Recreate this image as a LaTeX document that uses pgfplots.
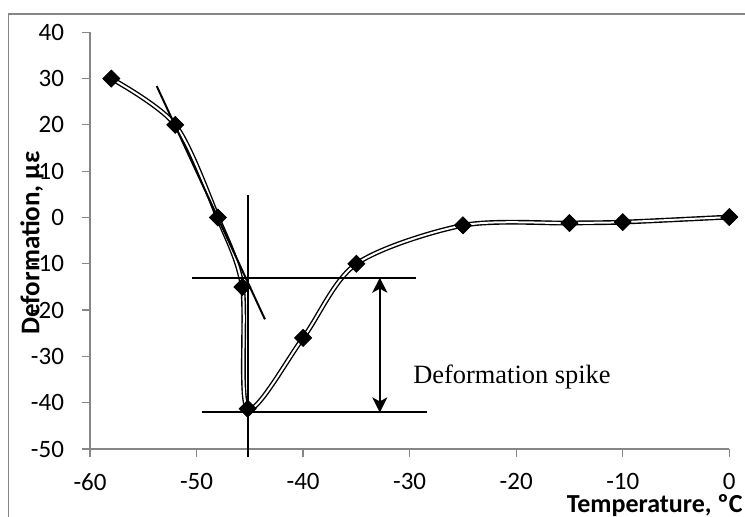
\documentclass[border=0pt]{standalone}
\usepackage{fontspec}
\setmainfont{Carlito}
\newfontfamily\timesfont{Liberation Serif}
\usepackage{pgfplots}
\pgfplotsset{compat=1.18}
\usetikzlibrary{arrows.meta}
\definecolor{axisgray}{HTML}{868686}

\begin{document}
\begin{tikzpicture}[x=1pt,y=1pt]
\useasboundingbox (0,0) rectangle (372.5,258.5);
% chart area frame (left and top edges only visible)
\draw[axisgray, line width=0.65pt] (4.25,-2) -- (4.25,251.5) -- (374,251.5);
\begin{axis}[
    at={(45pt,34pt)}, anchor=south west,
    scale only axis, width=319.65pt, height=208.35pt,
    xmin=-60, xmax=0, ymin=-50, ymax=40,
    xtick={-60,-50,...,0}, ytick={-50,-40,...,40},
    axis x line*=bottom, axis y line*=left,
    axis line style={axisgray, line width=0.6pt, -},
    tick style={axisgray, line width=0.6pt},
    tick align=outside, major tick length=4pt,
    /pgf/number format/assume math mode=true,
    ticklabel style={font=\fontsize{12.5}{14}\selectfont},
    xticklabel style={yshift=-4.6pt},
    yticklabel style={xshift=-5.5pt},
    clip=false,
]
% measured deformation
\addplot[smooth, line width=0.7pt, double=white, double distance=1pt] coordinates {
    (-58,30) (-52,20) (-48,0) (-45.7,-15) (-45.2,-41.3) (-40,-26)
    (-35,-10) (-25,-1.7) (-15,-1.2) (-10,-1.0) (0,0.1)
};
% tangent and construction lines
\draw[line width=1pt] (axis cs:-53.74,28.4) -- (axis cs:-43.58,-22);
\draw[line width=1pt] (axis cs:-45.2,4.8) -- (axis cs:-45.2,-51.7);
\draw[line width=1pt] (axis cs:-50.45,-13) -- (axis cs:-29.43,-13);
\draw[line width=1pt] (axis cs:-49.5,-42.1) -- (axis cs:-28.4,-42.1);
\draw[line width=1pt, {Stealth[length=7.5pt,width=7.5pt,inset=2pt]}-{Stealth[length=7.5pt,width=7.5pt,inset=2pt]}]
    (axis cs:-32.8,-13) -- (axis cs:-32.8,-42.1);
\node[anchor=base west, inner sep=0, font=\timesfont\fontsize{13.2}{15}\selectfont]
    at (axis cs:-29.69,-35.8) {Deformation spike};
\addplot[only marks, mark=square*, mark size=3pt, mark options={rotate=45, fill=black, draw=black}] coordinates {
    (-58,30) (-52,20) (-48,0) (-45.7,-15) (-45.2,-41.3) (-40,-26)
    (-35,-10) (-25,-1.7) (-15,-1.2) (-10,-1.0) (0,0.1)
};
\end{axis}
\node[anchor=base east, inner sep=0, font=\bfseries\fontsize{13}{15}\selectfont] at (371.5,2) {Temperature, ºC};
\node[rotate=90, inner sep=0, font=\bfseries\fontsize{13.5}{15}\selectfont] at (16,137) {Deformation, με};
\end{tikzpicture}
\end{document}
